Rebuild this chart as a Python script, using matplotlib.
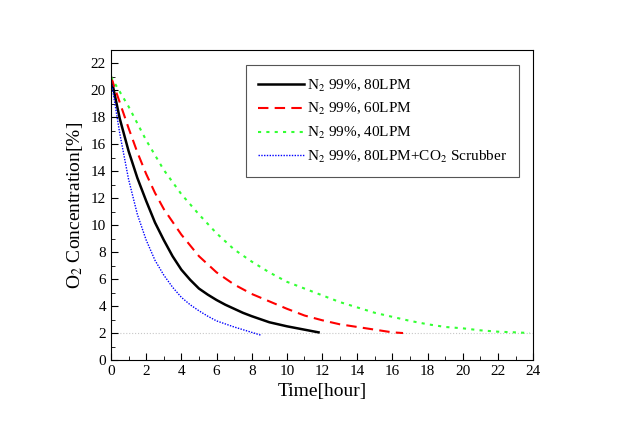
import matplotlib
matplotlib.use("Agg")
import matplotlib.pyplot as plt
from matplotlib.ticker import MultipleLocator

plt.rcParams['font.family'] = ['Liberation Serif', 'DejaVu Serif']
plt.rcParams['mathtext.fontset'] = 'stix'

# 80 LPM
t_80 = [0, 0.5, 1, 1.5, 2, 2.5, 3, 3.5, 4, 4.5, 5, 5.5, 6, 6.5, 7, 7.5, 8, 9, 10, 11, 11.8]
o2_80 = [21.0, 17.9, 15.5, 13.5, 11.8, 10.2, 8.9, 7.7, 6.7, 5.95, 5.3, 4.85, 4.45, 4.1,
         3.8, 3.5, 3.25, 2.8, 2.5, 2.25, 2.05]

# 60 LPM
t_60 = [0, 0.5, 1, 1.5, 2, 2.5, 3, 4, 5, 6, 7, 8, 9, 10, 11, 12, 13, 14, 15, 16, 16.6]
o2_60 = [21.0, 19.1, 17.2, 15.4, 13.8, 12.4, 11.2, 9.3, 7.7, 6.5, 5.6, 4.9, 4.35, 3.8,
         3.3, 2.95, 2.65, 2.45, 2.25, 2.05, 2.0]

# 40 LPM
t_40 = [0, 1, 2, 3, 4, 5, 6, 7, 8, 9, 10, 11, 12, 13, 14, 15, 16, 17, 18, 19, 20,
        21, 22, 23, 23.8]
o2_40 = [21.0, 18.8, 16.3, 14.1, 12.3, 10.8, 9.4, 8.2, 7.3, 6.5, 5.8, 5.3, 4.8, 4.3,
         3.9, 3.5, 3.2, 2.9, 2.65, 2.45, 2.35, 2.2, 2.1, 2.05, 2.0]

# 80 LPM + CO2 scrubber
t_scr = [0, 0.5, 1, 1.5, 2, 2.5, 3, 3.5, 4, 4.5, 5, 5.5, 6, 7, 8, 8.5]
o2_scr = [20.8, 16.8, 13.4, 10.8, 8.9, 7.4, 6.3, 5.4, 4.65, 4.1, 3.65, 3.25, 2.9, 2.45,
          2.05, 1.85]

target = 2.0

fig = plt.figure(figsize=(6.2, 4.34), dpi=100)
ax = fig.add_axes([0.179, 0.1705, 0.681, 0.7145])

ax.axhline(target, color='#c8c8c8', lw=0.8, ls=':', zorder=1)
ax.plot(t_80, o2_80, color='black', lw=1.8, label=r'N$_2$ 99%, 80LPM')
ax.plot(t_60, o2_60, color='#ff0000', lw=1.5, ls=(0, (5, 3)), label=r'N$_2$ 99%, 60LPM')
ax.plot(t_40, o2_40, color='#33ff33', lw=1.5, ls=(0, (1.5, 2.5)), label=r'N$_2$ 99%, 40LPM')
ax.plot(t_scr, o2_scr, color='#0000ff', lw=1.0, ls=(0, (1, 1)),
        label=r'N$_2$ 99%, 80LPM+CO$_2$ Scrubber')

ax.set_xlim(0, 24)
ax.set_ylim(0, 23)
ax.xaxis.set_major_locator(MultipleLocator(2))
ax.xaxis.set_minor_locator(MultipleLocator(1))
ax.yaxis.set_major_locator(MultipleLocator(2))
ax.yaxis.set_minor_locator(MultipleLocator(1))
ax.tick_params(which='both', direction='in', labelsize=11)
ax.tick_params(which='major', length=5)
ax.tick_params(which='minor', length=3)

ax.set_xlabel('Time[hour]', fontsize=14)
ax.set_ylabel(r'O$_2$ Concentration[%]', fontsize=14)

leg = ax.legend(loc='upper right', bbox_to_anchor=(0.985, 0.975), fontsize=11,
                fancybox=False, edgecolor='#555555', framealpha=1,
                handlelength=3, handletextpad=0.2, borderpad=0.8, labelspacing=0.5)
leg.get_frame().set_linewidth(0.8)

fig.savefig('out.png', dpi=100)
